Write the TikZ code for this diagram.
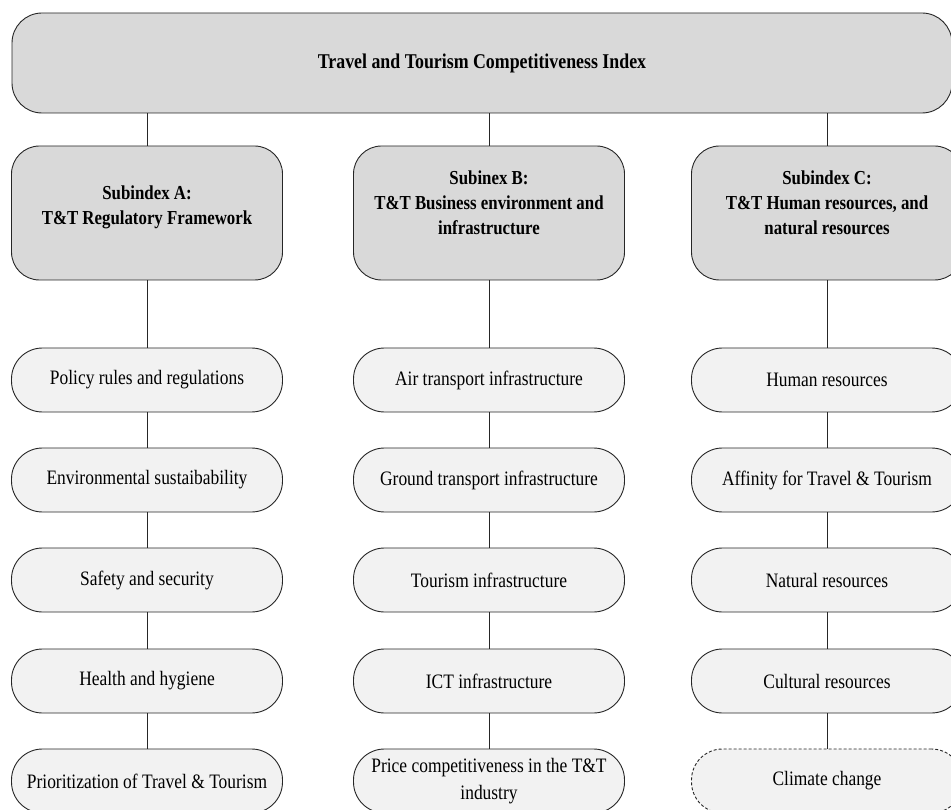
\documentclass[tikz,border=0pt]{standalone}
\usepackage{fontspec}
\setmainfont{Liberation Serif}[FakeStretch=0.85]
\begin{document}
\begin{tikzpicture}[x=1pt,y=-1pt,
  base/.style={draw=black!85, line width=0.9pt, rectangle, inner sep=0pt, align=center},
  topbox/.style={base, fill=black!15, rounded corners=30pt, minimum width=940pt, minimum height=100pt,
     font=\fontsize{21}{28}\selectfont\bfseries},
  subbox/.style={base, fill=black!15, rounded corners=28pt, minimum width=271pt, minimum height=134pt},
  subtext/.style={align=center, font=\fontsize{19.8}{25}\selectfont\bfseries, inner sep=0pt},
  leaf/.style={base, fill=black!5, rounded corners=31pt, minimum width=271pt, minimum height=64pt,
     font=\fontsize{20.5}{28}\selectfont},
  dleaf/.style={leaf, dash pattern=on 3pt off 2pt},
  conn/.style={draw=black!85, line width=0.9pt}
]
\useasboundingbox (0,0) rectangle (951,810);

\node[topbox] (top) at (482,63) {Travel and Tourism Competitiveness Index};

\node[subbox] (sA) at (147,213) {};
\node[subbox] (sB) at (489,213) {};
\node[subbox] (sC) at (827,213) {};
\node[subtext] (tA) at (147,207) {Subindex A:\\T\&T Regulatory Framework};
\node[subtext] (tB) at (489,203) {Subinex B:\\T\&T Business environment and\\infrastructure};
\node[subtext] (tC) at (827,203) {Subindex C:\\T\&T Human resources, and\\natural resources};

% column A
\node[leaf] (a1) at (147,380) {Policy rules and regulations};
\node[leaf] (a2) at (147,480) {Environmental sustaibability};
\node[leaf] (a3) at (147,580) {Safety and security};
\node[leaf] (a4) at (147,681) {Health and hygiene};
\node[leaf] (a5) at (147,781) {Prioritization of Travel \& Tourism};

% column B
\node[leaf] (b1) at (489,380) {Air transport infrastructure};
\node[leaf] (b2) at (489,480) {Ground transport infrastructure};
\node[leaf] (b3) at (489,580) {Tourism infrastructure};
\node[leaf] (b4) at (489,681) {ICT infrastructure};
\node[leaf, font=\fontsize{20.5}{27}\selectfont] (b5) at (489,781) {Price competitiveness in the T\&T\\industry};

% column C
\node[leaf] (c1) at (827,380) {Human resources};
\node[leaf] (c2) at (827,480) {Affinity for Travel \& Tourism};
\node[leaf] (c3) at (827,580) {Natural resources};
\node[leaf] (c4) at (827,681) {Cultural resources};
\node[dleaf] (c5) at (827,781) {Climate change};

% connectors
\foreach \s in {sA,sB,sC} {
  \draw[conn] (top.south -| \s.north) -- (\s.north);
}
\draw[conn] (sA.south) -- (a1.north);
\draw[conn] (sB.south) -- (b1.north);
\draw[conn] (sC.south) -- (c1.north);
\foreach \c in {a,b,c} {
  \draw[conn] (\c1.south) -- (\c2.north);
  \draw[conn] (\c2.south) -- (\c3.north);
  \draw[conn] (\c3.south) -- (\c4.north);
  \draw[conn] (\c4.south) -- (\c5.north);
}
\end{tikzpicture}
\end{document}
